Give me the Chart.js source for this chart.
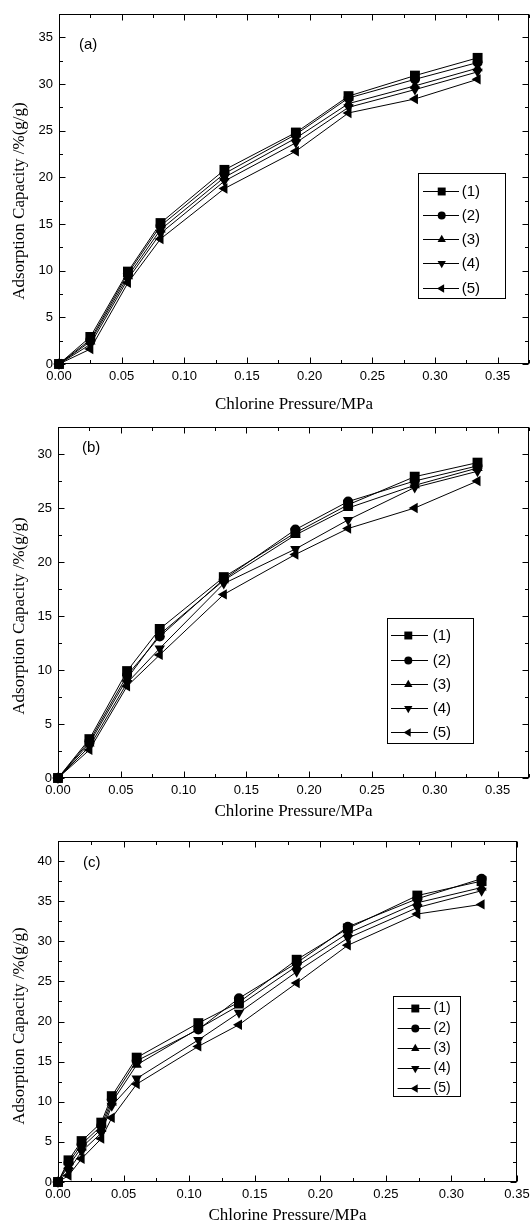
<!DOCTYPE html>
<html>
<head>
<meta charset="utf-8">
<title>Chlorine adsorption</title>
<script src="https://cdn.jsdelivr.net/npm/chart.js@4.4.0/dist/chart.umd.min.js"></script>
<style>
  html, body { margin: 0; padding: 0; background: #fff; }
  body { position: relative; width: 530px; height: 1229px; overflow: hidden; }
  .panel { position: absolute; left: 0; }
</style>
</head>
<body>
<canvas id="chartA" class="panel" width="545" height="440" style="top:0px"></canvas>
<canvas id="chartB" class="panel" width="545" height="440" style="top:400px"></canvas>
<canvas id="chartC" class="panel" width="545" height="440" style="top:810px"></canvas>
<script>
// shared
const seriesLabels = ['(1)', '(2)', '(3)', '(4)', '(5)'];
const xTickValues = [0, 0.05, 0.10, 0.15, 0.20, 0.25, 0.30, 0.35];

// panel (a)
const pressureA = [0, 0.025, 0.055, 0.081, 0.132, 0.189, 0.231, 0.284, 0.334];
const a1 = [0, 2.9, 9.9, 15.1, 20.8, 24.8, 28.7, 30.9, 32.8];
const a2 = [0, 2.6, 9.7, 14.8, 20.4, 24.6, 28.5, 30.5, 32.3];
const a3 = [0, 2.4, 9.4, 14.4, 20.0, 24.2, 27.9, 29.8, 31.7];
const a4 = [0, 2.1, 9.1, 14.0, 19.6, 23.7, 27.5, 29.4, 31.3];
const a5 = [0, 1.6, 8.7, 13.4, 18.8, 22.8, 26.9, 28.4, 30.5];
const yTicksA = [0, 5, 10, 15, 20, 25, 30, 35];

// panel (b)
const pressureB = [0, 0.025, 0.055, 0.081, 0.132, 0.189, 0.231, 0.284, 0.334];
const b1 = [0, 3.6, 9.9, 13.8, 18.6, 22.7, 25.3, 27.9, 29.2];
const b2 = [0, 3.4, 9.5, 13.1, 18.4, 23.0, 25.6, 27.5, 28.9];
const b3 = [0, 3.2, 9.2, 13.3, 18.3, 22.5, 25.0, 27.1, 28.7];
const b4 = [0, 2.9, 8.8, 12.0, 18.0, 21.2, 23.9, 26.9, 28.4];
const b5 = [0, 2.6, 8.5, 11.4, 17.0, 20.7, 23.1, 25.0, 27.5];
const yTicksB = [0, 5, 10, 15, 20, 25, 30];

// panel (c)
const pressureC = [0, 0.008, 0.018, 0.033, 0.041, 0.060, 0.107, 0.138, 0.182, 0.221, 0.274, 0.323];
const c1 = [0, 2.7, 5.1, 7.4, 10.7, 15.5, 19.8, 22.4, 27.7, 31.6, 35.7, 37.5];
const c2 = [0, 2.4, 4.7, 7.0, 10.3, 15.1, 19.0, 22.9, 27.3, 31.8, 35.3, 37.8];
const c3 = [0, 2.0, 4.3, 6.6, 9.9, 14.6, 19.1, 22.0, 26.9, 31.0, 34.8, 36.7];
const c4 = [0, 1.4, 3.8, 6.1, 9.5, 12.9, 17.7, 21.1, 26.2, 30.4, 34.2, 36.3];
const c5 = [0, 0.8, 2.9, 5.4, 8.0, 12.2, 16.9, 19.6, 24.8, 29.5, 33.4, 34.6];
const yTicksC = [0, 5, 10, 15, 20, 25, 30, 35, 40];

// marker looks, one per series
const markers = [
    {style: 'rect', radius: 7, rotation: 0},
    {style: 'circle', radius: 5, rotation: 0},
    {style: 'triangle', radius: 6, rotation: 0},
    {style: 'triangle', radius: 6, rotation: 180},
    {style: 'triangle', radius: 6, rotation: 270}
];

const SANS = "'Liberation Sans', Arial, sans-serif";
const SERIF = "'Liberation Serif', 'Times New Roman', serif";

function drawMarker(ctx, m, x, y, scale) {
    const r = m.radius * scale;
    ctx.beginPath();
    if (m.style === 'rect') {
        const s = Math.SQRT1_2 * r;
        ctx.rect(x - s, y - s, 2 * s, 2 * s);
    } else if (m.style === 'circle') {
        ctx.arc(x, y, r, 0, Math.PI * 2);
    } else {
        let rad = m.rotation * Math.PI / 180;
        ctx.moveTo(x + Math.sin(rad) * r, y - Math.cos(rad) * r);
        for (let k = 0; k < 2; k++) {
            rad += Math.PI * 2 / 3;
            ctx.lineTo(x + Math.sin(rad) * r, y - Math.cos(rad) * r);
        }
        ctx.closePath();
    }
    ctx.fill();
}

// box, inward ticks, y title, panel tag, legend
const framePlugin = {
    id: 'frame',
    beforeDatasetsDraw(chart, args, opts) {
        const ctx = chart.ctx;
        const a = chart.chartArea;
        const xs = chart.scales.x, ys = chart.scales.y;
        const L = Math.round(a.left) + 0.5, R = Math.round(a.right) - 0.5;
        const T = Math.round(a.top) + 0.5, B = Math.round(a.bottom) - 0.5;
        ctx.save();
        ctx.strokeStyle = '#000';
        ctx.lineWidth = 1;
        ctx.strokeRect(L, T, R - L, B - T);
        ctx.beginPath();
        for (let i = 0; i * 0.025 <= xs.max + 1e-9; i++) {
            const px = Math.round(xs.getPixelForValue(i * 0.025)) + 0.5;
            const len = i % 2 === 0 ? 6 : 3.5;
            ctx.moveTo(px, B); ctx.lineTo(px, B - len);
            ctx.moveTo(px, T); ctx.lineTo(px, T + len);
        }
        for (let i = 0; i * 2.5 <= ys.max + 1e-9; i++) {
            const py = Math.round(ys.getPixelForValue(i * 2.5)) + 0.5;
            const len = i % 2 === 0 ? 6 : 3.5;
            ctx.moveTo(L, py); ctx.lineTo(L + len, py);
            ctx.moveTo(R, py); ctx.lineTo(R - len, py);
        }
        ctx.stroke();
        ctx.restore();
    },
    afterDraw(chart, args, opts) {
        const ctx = chart.ctx;
        ctx.save();
        ctx.fillStyle = '#000';
        // y title
        ctx.font = '17px ' + SERIF;
        ctx.textAlign = 'center';
        ctx.textBaseline = 'middle';
        ctx.translate(opts.yTitle.x, opts.yTitle.y);
        ctx.rotate(-Math.PI / 2);
        ctx.fillText('Adsorption Capacity /%(g/g)', 0, 0);
        ctx.setTransform(1, 0, 0, 1, 0, 0);
        // tag
        ctx.font = '15px ' + SANS;
        ctx.textAlign = 'left';
        ctx.fillText(opts.tag.text, opts.tag.x, opts.tag.y);
        // legend
        const lg = opts.legend;
        ctx.strokeStyle = '#000';
        ctx.lineWidth = 1;
        ctx.fillStyle = '#fff';
        ctx.fillRect(lg.x, lg.y, lg.w, lg.h);
        ctx.strokeRect(lg.x + 0.5, lg.y + 0.5, lg.w, lg.h);
        ctx.font = lg.font + 'px ' + SANS;
        chart.data.datasets.forEach((ds, i) => {
            const cy = Math.round(lg.y + lg.first + i * lg.row) + 0.5;
            ctx.beginPath();
            ctx.moveTo(lg.x + lg.line0, cy);
            ctx.lineTo(lg.x + lg.line1, cy);
            ctx.stroke();
            ctx.fillStyle = '#000';
            drawMarker(ctx, markers[i], lg.x + lg.mark, cy, 0.8);
            ctx.fillText(ds.label, lg.x + lg.text, cy);
        });
        ctx.restore();
    }
};

function buildChart(id, cfg) {
    const W = 545, H = 440;
    const xAxisH = cfg.xTitleCenter - cfg.area.bottom + 10.2;
    const datasets = cfg.series.map((vals, i) => ({
        label: seriesLabels[i],
        data: cfg.pressure.map((p, j) => ({x: p, y: vals[j]})),
        borderColor: '#000',
        backgroundColor: '#000',
        borderWidth: 1,
        tension: 0,
        clip: false,
        pointStyle: markers[i].style,
        pointRadius: markers[i].radius,
        pointRotation: markers[i].rotation,
        pointBackgroundColor: '#000',
        pointBorderWidth: 0
    }));
    return new Chart(document.getElementById(id), {
        type: 'line',
        data: {datasets: datasets},
        plugins: [framePlugin],
        options: {
            responsive: false,
            animation: false,
            events: [],
            layout: {
                padding: {
                    left: 0,
                    top: cfg.area.top,
                    right: W - cfg.area.right,
                    bottom: H - cfg.area.bottom - xAxisH
                }
            },
            plugins: {
                legend: {display: false},
                tooltip: {enabled: false},
                frame: {yTitle: cfg.yTitle, tag: cfg.tag, legend: cfg.legend}
            },
            scales: {
                x: {
                    type: 'linear',
                    min: 0,
                    max: cfg.xMax,
                    afterBuildTicks: s => { s.ticks = xTickValues.map(v => ({value: v})); },
                    afterFit: s => { s.height = xAxisH; },
                    grid: {display: false, drawTicks: false},
                    border: {display: false},
                    ticks: {
                        padding: 5, color: '#000', autoSkip: false, maxRotation: 0,
                        font: {family: SANS, size: 13},
                        callback: v => v.toFixed(2)
                    },
                    title: {
                        display: true, text: 'Chlorine Pressure/MPa', color: '#000',
                        font: {family: SERIF, size: 17}, padding: 0
                    }
                },
                y: {
                    type: 'linear',
                    min: 0,
                    max: cfg.yMax,
                    afterBuildTicks: s => { s.ticks = cfg.yTicks.map(v => ({value: v})); },
                    afterFit: s => { s.width = cfg.area.left; },
                    grid: {display: false, drawTicks: false},
                    border: {display: false},
                    ticks: {
                        padding: 6, color: '#000',
                        font: {family: SANS, size: 13},
                        callback: v => String(v)
                    }
                }
            }
        }
    });
}

buildChart('chartA', {
    pressure: pressureA, series: [a1, a2, a3, a4, a5], yTicks: yTicksA,
    xMax: 0.375, yMax: 37.5,
    area: {top: 14, bottom: 364, left: 59, right: 529},
    xTitleCenter: 405,
    yTitle: {x: 20, y: 201},
    tag: {text: '(a)', x: 79, y: 45},
    legend: {x: 418, y: 173, w: 87, h: 125, first: 17.7, row: 24.2, line0: 5, line1: 41, mark: 23.7, text: 43.7, font: 15}
});

buildChart('chartB', {
    pressure: pressureB, series: [b1, b2, b3, b4, b5], yTicks: yTicksB,
    xMax: 0.375, yMax: 32.5,
    area: {top: 27, bottom: 378, left: 58, right: 529},
    xTitleCenter: 412,
    yTitle: {x: 20, y: 216},
    tag: {text: '(b)', x: 82, y: 48},
    legend: {x: 387, y: 218, w: 86, h: 125, first: 17.4, row: 24.2, line0: 4, line1: 41, mark: 21.3, text: 45.7, font: 15}
});

buildChart('chartC', {
    pressure: pressureC, series: [c1, c2, c3, c4, c5], yTicks: yTicksC,
    xMax: 0.35, yMax: 42.5,
    area: {top: 31, bottom: 372, left: 58, right: 517},
    xTitleCenter: 406,
    yTitle: {x: 20, y: 216},
    tag: {text: '(c)', x: 83, y: 53},
    legend: {x: 393, y: 186, w: 67, h: 100, first: 11.6, row: 20, line0: 4.6, line1: 37.3, mark: 22.3, text: 40.6, font: 14}
});
</script>
</body>
</html>
